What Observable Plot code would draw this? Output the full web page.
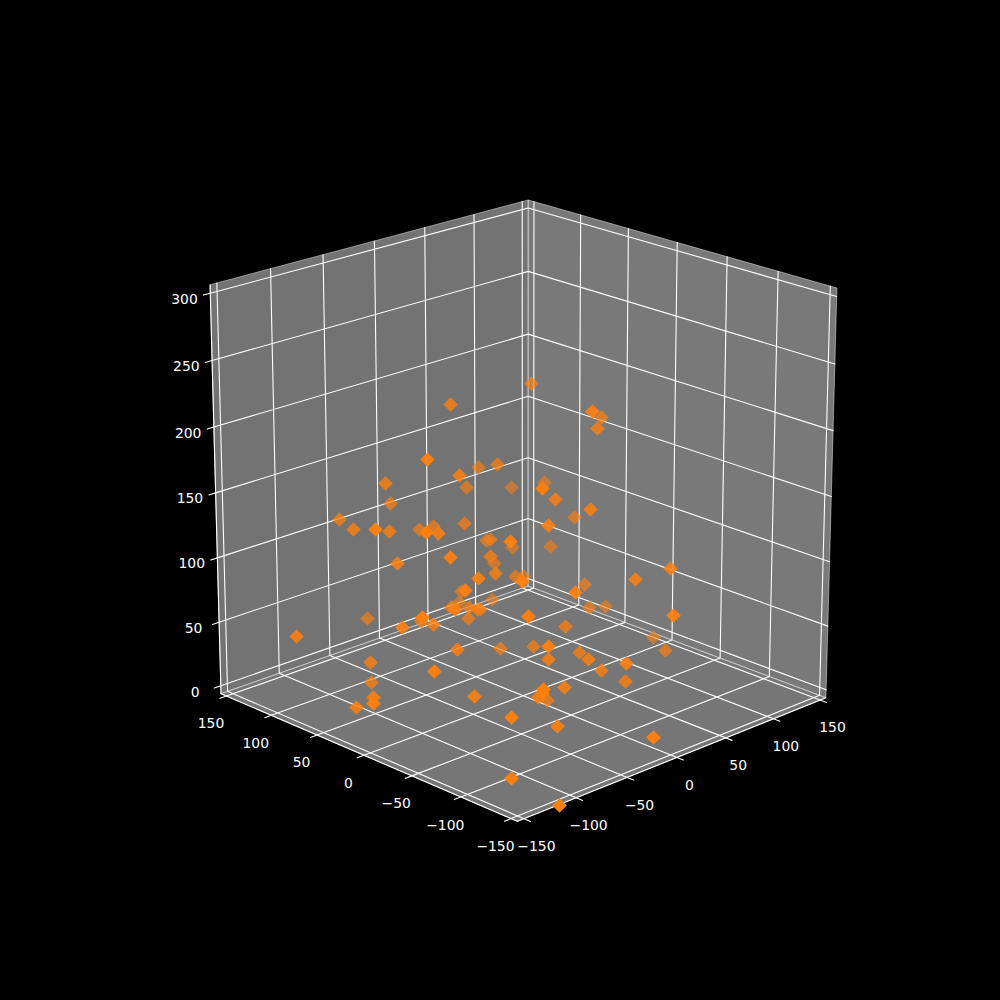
<!DOCTYPE html>
<html><head><meta charset="utf-8">
<script src="https://cdn.jsdelivr.net/npm/d3@7"></script>
<script src="https://cdn.jsdelivr.net/npm/@observablehq/plot@0.6"></script>
<style>html,body{margin:0;padding:0;background:#000}svg{display:block}</style>
</head><body><div id="chart"></div>
<script>
const xTicks=[-150,-100,-50,0,50,100,150];
const yTicks=[-150,-100,-50,0,50,100,150];
const zTicks=[0,50,100,150,200,250,300];
// Scatter positions (on the 1000 x 1000 canvas) and depth shade.
const pointX=[450,427,478,497,459,385,466,511,390,339,464,531,592,601,597,544,542,555,590,574,548,353,375,389,419,433,426,438,486,490,510,512,450,490,494,397,495,478,515,523,522,461,465,459,492,451,455,469,477,480,468,367,422,421,402,433,296,528,457,500,370,434,371,474,373,373,356,511,511,550,635,670,584,575,589,605,673,565,653,665,533,548,548,579,588,626,601,625,564,543,542,538,547,557,653,559];
const pointY=[404,459,467,464,475,483,487,487,503,519,523,383,411,417,428,482,488,499,509,517,525,529,529,531,529,526,532,533,540,539,541,547,557,556,563,563,573,578,576,576,581,591,590,602,599,607,609,607,609,609,618,618,617,621,627,624,636,616,649,648,662,671,682,696,697,703,707,717,778,546,579,568,584,592,607,606,615,626,637,650,646,646,659,652,659,663,670,681,687,689,693,697,700,726,737,805];
const pointShade=[.8,.95,.65,.7,.85,.8,.65,.55,.7,.75,.7,.7,.9,.7,.8,.6,1,.8,.85,.65,.9,.8,.95,.8,.65,.65,1,.85,.65,.65,.95,.55,.9,.75,.6,.85,.8,.9,.65,.6,.95,.6,.9,.6,.55,.8,.85,.7,.75,.7,.7,.65,1,.7,.9,.8,.85,1,.85,.7,.8,1,.75,.9,.9,.95,.85,1,1,.6,.85,.85,.65,.9,.65,.6,.95,.75,.6,.7,.7,.95,.85,.75,.85,.9,.8,.8,.85,1,1,.85,.75,.9,1,1];

const lo=-156.25, hi=156.25, zlo=-6.25, zhi=306.25, out=6.25;
const el=20*Math.PI/180, az=-134*Math.PI/180, dist=10, S=418, CX=522.6, CY=494.2;
const n=[Math.cos(el)*Math.cos(az),Math.cos(el)*Math.sin(az),Math.sin(el)];
const r=[-Math.sin(az),Math.cos(az),0];
const u=[-Math.sin(el)*Math.cos(az),-Math.sin(el)*Math.sin(az),Math.cos(el)];
const dot3=(a,b)=>a[0]*b[0]+a[1]*b[1]+a[2]*b[2];
function proj([x,y,z]){
  const p=[x/300,y/300,(z-150)/300];
  const f=dist/(dist-dot3(p,n));
  return {px:CX+S*dot3(p,r)*f,py:CY-S*dot3(p,u)*f};
}
const path=(id,pts)=>pts.map(q=>({id,...proj(q)}));

const panes=[
  ...path("left",[[lo,hi,zlo],[hi,hi,zlo],[hi,hi,zhi],[lo,hi,zhi],[lo,hi,zlo]]).map(d=>({...d,c:"#e6e6e6"})),
  ...path("right",[[hi,hi,zlo],[hi,lo,zlo],[hi,lo,zhi],[hi,hi,zhi],[hi,hi,zlo]]).map(d=>({...d,c:"#f2f2f2"})),
  ...path("floor",[[lo,lo,zlo],[hi,lo,zlo],[hi,hi,zlo],[lo,hi,zlo],[lo,lo,zlo]]).map(d=>({...d,c:"#ececec"}))
];
const grid=[
  ...xTicks.flatMap(t=>path("x"+t,[[t,lo,zlo],[t,hi,zlo],[t,hi,zhi]])),
  ...yTicks.flatMap(t=>path("y"+t,[[lo,t,zlo],[hi,t,zlo],[hi,t,zhi]])),
  ...zTicks.flatMap(t=>path("z"+t,[[lo,hi,t],[hi,hi,t],[hi,lo,t]]))
];
const axes=[
  ...path("ax",[[lo,lo,zlo],[hi,lo,zlo]]),
  ...path("ay",[[lo,lo,zlo],[lo,hi,zlo]]),
  ...path("az",[[lo,hi,zlo],[lo,hi,zhi]])
];
const tickMarks=[
  ...xTicks.flatMap(t=>path("tx"+t,[[t,lo,zlo],[t,lo-out,zlo]])),
  ...yTicks.flatMap(t=>path("ty"+t,[[lo,t,zlo],[lo-out,t,zlo]])),
  ...zTicks.flatMap(t=>path("tz"+t,[[lo,hi,t],[lo-out,hi,t]]))
];
const fmt=t=>String(t).replace("-","\u2212");
const xLabels=xTicks.map(t=>({t:fmt(t),...proj([t,lo-out,zlo])}));
const yLabels=yTicks.map(t=>({t:fmt(t),...proj([lo-out,t,zlo])}));
const zLabels=zTicks.map(t=>({t:fmt(t),...proj([lo-out,hi,t])}));
const points=pointX.map((x,i)=>({x,y:pointY[i],a:pointShade[i]}));
const lab={x:"px",y:"py",text:"t",fill:"#fff",fontSize:13.9,fontFamily:"DejaVu Sans"};

const chart=Plot.plot({
  width:1000,height:1000,margin:0,
  style:{background:"#000"},
  x:{domain:[0,1000],range:[0,1000],axis:null},
  y:{domain:[0,1000],range:[0,1000],axis:null},
  opacity:{type:"identity"},
  marks:[
    Plot.line(panes,{x:"px",y:"py",z:"id",fill:"c",stroke:"c",fillOpacity:.5,strokeOpacity:.5,strokeWidth:1,curve:"linear"}),
    Plot.line(grid,{x:"px",y:"py",z:"id",stroke:"#fff",strokeWidth:1.1}),
    Plot.line(axes,{x:"px",y:"py",z:"id",stroke:"#fff",strokeWidth:1.1}),
    Plot.line(tickMarks,{x:"px",y:"py",z:"id",stroke:"#fff",strokeWidth:1.1}),
    Plot.text(xLabels,{...lab,dx:6,dy:25.5}),
    Plot.text(yLabels,{...lab,dx:-9,dy:25.5}),
    Plot.text(zLabels,{...lab,dx:-19,dy:4}),
    Plot.dot(points,{x:"x",y:"y",symbol:"diamond2",r:6.6,fill:"#ff7f0e",fillOpacity:"a",sort:"a"})
  ]
});
document.getElementById("chart").append(chart);
</script></body></html>
